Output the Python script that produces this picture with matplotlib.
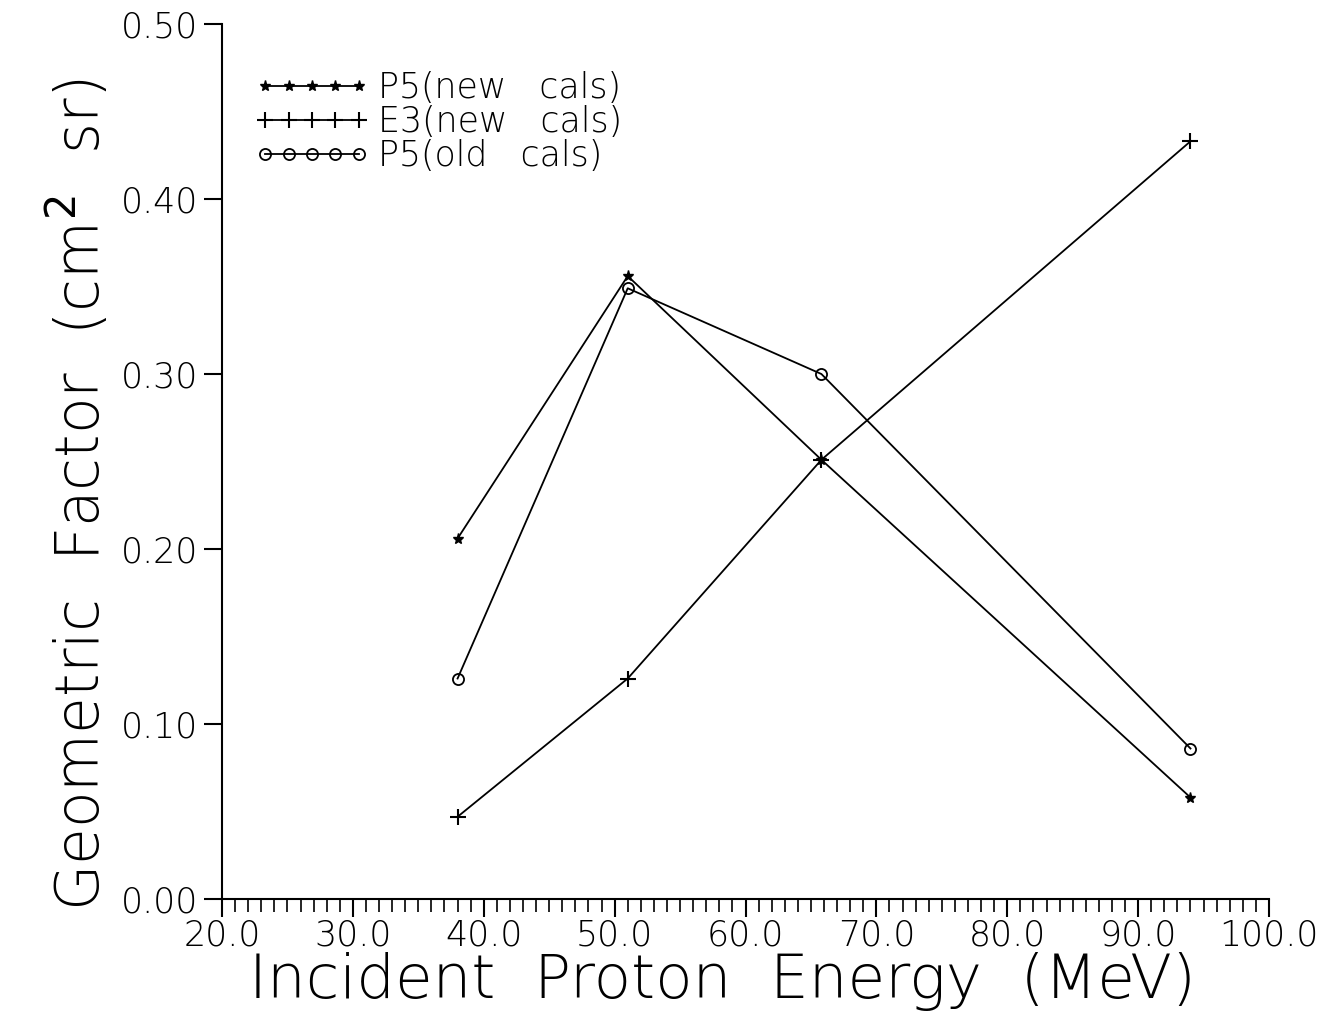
import matplotlib
matplotlib.use("Agg")
import matplotlib.pyplot as plt
from matplotlib.ticker import MultipleLocator, FormatStrFormatter

energy = [38.0, 51.0, 65.8, 94.0]
p5_new = [0.206, 0.356, 0.251, 0.058]
e3_new = [0.047, 0.126, 0.251, 0.433]
p5_old = [0.126, 0.349, 0.300, 0.086]
labels = ["P5(new   cals)", "E3(new   cals)", "P5(old   cals)"]

plt.rcParams['font.family'] = ['DejaVu Sans']
fig = plt.figure(figsize=(13.23, 10.14), dpi=100)
ax = fig.add_axes([0.1678, 0.1134, 0.7914, 0.8629])

lw = 1.3
ax.plot(energy, p5_new, color='black', lw=lw, marker='*', ms=8, label=labels[0])
ax.plot(energy, e3_new, color='black', lw=lw, marker='+', ms=11, mew=1.5, label=labels[1])
ax.plot(energy, p5_old, color='black', lw=lw, marker='o', ms=8, mfc='none', mew=1.3, label=labels[2])

ax.set_xlim(20, 100)
ax.set_ylim(0, 0.5)
ax.spines['top'].set_visible(False)
ax.spines['right'].set_visible(False)
ax.spines['left'].set_linewidth(1.5)
ax.spines['bottom'].set_linewidth(1.5)

ax.xaxis.set_major_locator(MultipleLocator(10))
ax.xaxis.set_minor_locator(MultipleLocator(1))
ax.yaxis.set_major_locator(MultipleLocator(0.1))
ax.xaxis.set_major_formatter(FormatStrFormatter('%.1f'))
ax.yaxis.set_major_formatter(FormatStrFormatter('%.2f'))
ax.tick_params(axis='x', which='major', direction='out', length=13, width=1.5, labelsize=25, pad=1)
ax.tick_params(axis='x', which='minor', direction='out', length=9, width=1.2)
ax.tick_params(axis='y', which='major', direction='out', length=13, width=1.5, labelsize=25, pad=4)
for t in ax.get_xticklabels() + ax.get_yticklabels():
    t.set_fontweight('light')

ax.set_xlabel('Incident  Proton  Energy  (MeV)', fontsize=44, fontweight='light', labelpad=0)
ax.xaxis.label.set_x(0.478)
ax.set_ylabel(r'Geometric  Factor  (cm$^{2}$  sr)', fontsize=43, fontweight='light')
ax.yaxis.set_label_coords(-0.104, 0.462)

leg = ax.legend(loc='upper left', bbox_to_anchor=(0.018, 0.962), frameon=False,
                fontsize=25, numpoints=5, handlelength=3.3, handletextpad=0.25,
                labelspacing=0.0, borderaxespad=0)
for t in leg.get_texts():
    t.set_fontweight('light')

fig.savefig('out.png', dpi=100, facecolor='white')
